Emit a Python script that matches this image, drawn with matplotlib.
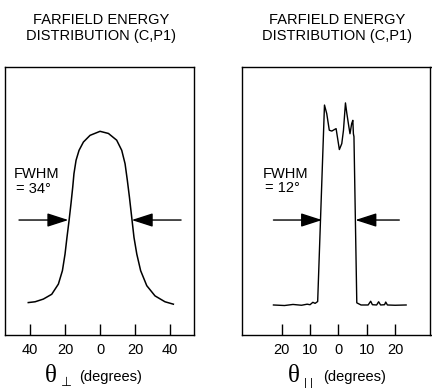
import matplotlib
matplotlib.use("Agg")
import matplotlib.pyplot as plt

plt.rcParams['font.family'] = ['Liberation Sans', 'DejaVu Sans']

# Perpendicular farfield (degrees, relative intensity)
perp_angle = [-41.0, -37.1, -32.4, -27.6, -23.8, -21.5, -20.0, -18.9, -17.7, -16.6, -15.6,
              -14.9, -13.7, -12.0, -9.5, -5.7, 0.0, 4.8, 9.5, 12.4, 14.3, 15.6, 16.8,
              18.1, 19.4, 21.0, 23.2, 26.7, 31.4, 37.1, 41.9]
perp_int = [0.121, 0.124, 0.134, 0.152, 0.190, 0.240, 0.302, 0.364, 0.427, 0.490, 0.552,
            0.602, 0.652, 0.689, 0.720, 0.745, 0.760, 0.752, 0.727, 0.689, 0.639, 0.577,
            0.514, 0.439, 0.364, 0.302, 0.240, 0.184, 0.146, 0.124, 0.115]

# Parallel farfield
par_angle = [-22.9, -19.0, -16.0, -13.0, -11.0, -10.0, -9.0, -8.2, -7.3, -4.9, -4.1, -3.2,
             -2.3, -1.5, -0.8, 0.35, 1.2, 1.8, 2.5, 3.0, 3.7, 4.1, 4.7, 5.1, 5.3, 5.5, 6.5,
             8.0, 10.5, 11.4, 12.0, 13.5, 14.2, 14.9, 16.3, 16.7, 17.3, 20.0, 23.9]
par_int = [0.112, 0.110, 0.114, 0.111, 0.115, 0.113, 0.122, 0.118, 0.125, 0.858, 0.826, 0.764,
           0.761, 0.766, 0.770, 0.692, 0.714, 0.764, 0.866, 0.826, 0.777, 0.751, 0.789, 0.801,
           0.751, 0.740, 0.120, 0.112, 0.112, 0.126, 0.113, 0.112, 0.124, 0.112, 0.113, 0.123,
           0.112, 0.111, 0.112]

perp_ticks = [-40, -20, 0, 20, 40]
perp_ticklabels = ['40', '20', '0', '20', '40']
par_ticks = [-20, -10, 0, 10, 20]
par_ticklabels = ['20', '10', '0', '10', '20']

title = "FARFIELD ENERGY\nDISTRIBUTION (C,P1)"

W, H = 432, 390
fig = plt.figure(figsize=(W / 100, H / 100), dpi=100)
ax1 = fig.add_axes([5 / W, 1 - 335 / H, 188.5 / W, 268 / H])
ax2 = fig.add_axes([241.7 / W, 1 - 335 / H, 188.8 / W, 268 / H])

ax1.plot(perp_angle, perp_int, color='black', lw=1.1)
ax1.set_xlim(-54.3, 53.4)
ax2.plot(par_angle, par_int, color='black', lw=1.0)
ax2.set_xlim(-34.1, 32.5)

for ax, ticks, labels in [(ax1, perp_ticks, perp_ticklabels), (ax2, par_ticks, par_ticklabels)]:
    ax.set_ylim(0, 1)
    ax.set_yticks([])
    ax.set_xticks(ticks)
    ax.set_xticklabels(labels, fontsize=10.5)
    ax.tick_params(axis='x', direction='in', length=8, width=1.0, pad=6)
    for s in ax.spines.values():
        s.set_linewidth(1.0)

arrow = dict(arrowstyle='-|>,head_length=1.3,head_width=0.42', lw=1.0, color='black',
             shrinkA=0, shrinkB=0)
ya = 0.429
ax1.annotate('', xy=(-18.1, ya), xytext=(-46.3, ya), arrowprops=arrow)
ax1.annotate('', xy=(18.1, ya), xytext=(46.3, ya), arrowprops=arrow)
ax2.annotate('', xy=(-5.75, ya), xytext=(-22.9, ya), arrowprops=arrow)
ax2.annotate('', xy=(6.0, ya), xytext=(21.5, ya), arrowprops=arrow)

fs = 10.5
fig.text(14 / W, 1 - 174 / H, 'FWHM', fontsize=fs, va='center', ha='left')
fig.text(16 / W, 1 - 189 / H, '= 34°', fontsize=fs, va='center', ha='left')
fig.text(263 / W, 1 - 174 / H, 'FWHM', fontsize=fs, va='center', ha='left')
fig.text(265 / W, 1 - 188 / H, '= 12°', fontsize=fs, va='center', ha='left')

fig.text(101 / W, 1 - 28 / H, title, fontsize=10.5, ha='center', va='center',
         linespacing=1.15)
fig.text(337.5 / W, 1 - 28 / H, title, fontsize=10.5, ha='center', va='center',
         linespacing=1.15)

serif = ['Liberation Serif', 'DejaVu Serif']
fig.text(45 / W, 1 - 376 / H, 'θ', fontsize=18, ha='left', va='center', family=serif)
fig.text(61 / W, 1 - 383 / H, '⊥', fontsize=9, ha='left', va='center',
         family=['DejaVu Sans'])
fig.text(79 / W, 1 - 377 / H, '(degrees)', fontsize=fs, ha='left', va='center')
fig.text(288 / W, 1 - 376 / H, 'θ', fontsize=18, ha='left', va='center', family=serif)
fig.text(304 / W, 1 - 383 / H, '| |', fontsize=8, ha='left', va='center')
fig.text(323 / W, 1 - 377 / H, '(degrees)', fontsize=fs, ha='left', va='center')

fig.savefig('out.png', dpi=100)
